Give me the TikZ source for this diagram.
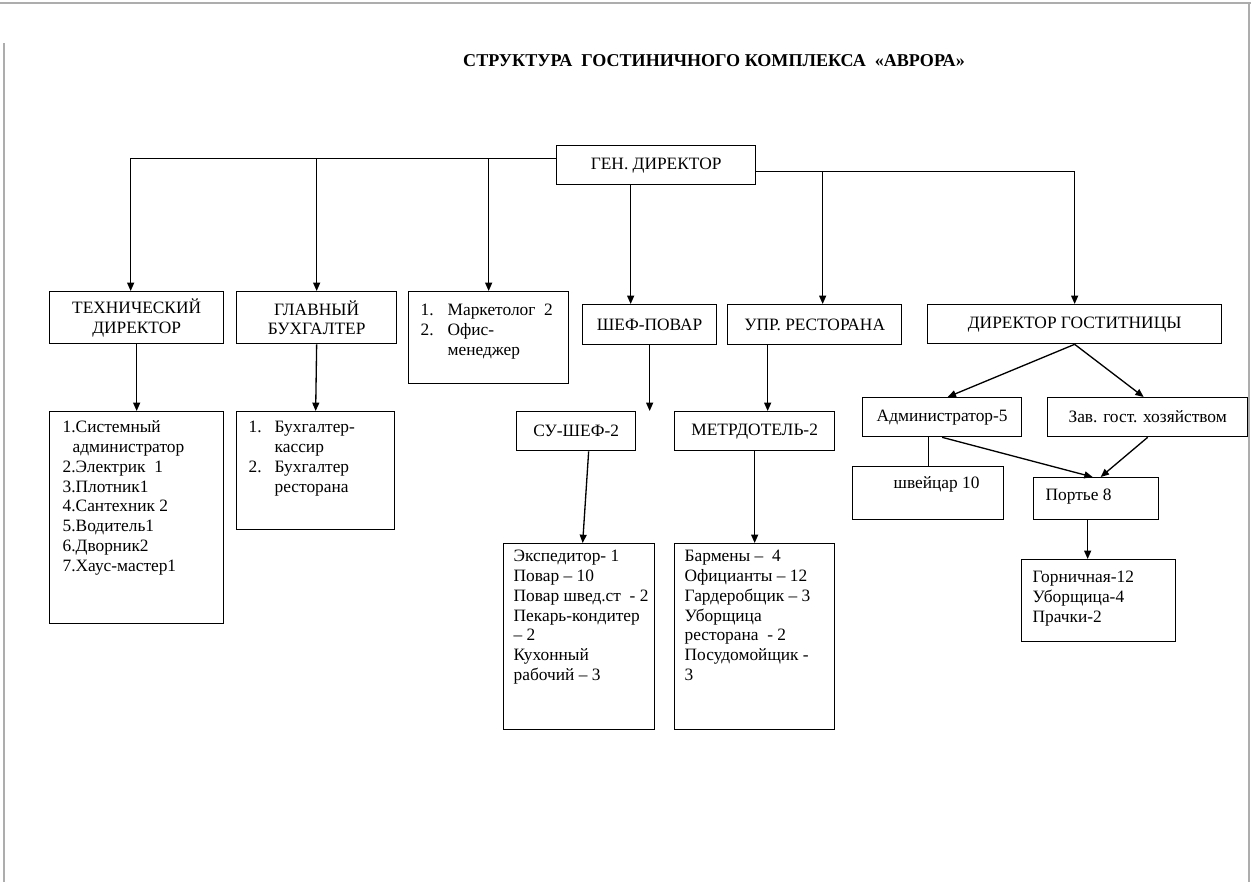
\documentclass[tikz,border=0pt]{standalone}
\usepackage{fontspec}
\setmainfont{Liberation Serif}
\usetikzlibrary{arrows.meta,positioning}
\newdimen\pxu \pxu=0.72pt
\newcommand{\listtext}[3]{\parbox[c][#1\pxu][t]{#2\pxu}{\begin{tabular}[t]{@{}l@{}}#3\end{tabular}}}

\begin{document}
\begin{tikzpicture}[x=0.72pt,y=-0.72pt,line width=0.95pt,
    >={Triangle[length=6pt,width=5pt]},
    sz/.style 2 args={minimum width=#1*\pxu,minimum height=#2*\pxu},
    pad/.style 2 args={inner xsep=#1*\pxu,inner ysep=#2*\pxu},
    box/.style={draw,anchor=north west,inner sep=0pt,align=center,
      font=\fontsize{12.5}{14.2}\selectfont},
    listbox/.style={draw,anchor=north west,font=\fontsize{12.5}{14.2}\selectfont},
    pageedge/.style={draw=black!32,line width=1.2pt}]

  \fill[white] (0,0) rectangle (1251,882);
  \useasboundingbox (0,0) rectangle (1251,882);
  \draw[pageedge,line width=2pt] (0,3) -- (1251,3);
  \draw[pageedge] (4,43) -- (4,882);
  \draw[pageedge] (1249,3) -- (1249,882);

  \node[font=\fontsize{13}{15}\selectfont\bfseries] (title) at (714,61)
    {СТРУКТУРА\ \ ГОСТИНИЧНОГО КОМПЛЕКСА\ \ «АВРОРА»};

  \node[box,sz={199}{39}] (gen)   at (556,145) {ГЕН. ДИРЕКТОР};
  \node[box,sz={174}{52}] (tech)  at (49,291)  {ТЕХНИЧЕСКИЙ\\ДИРЕКТОР};
  \node[box,sz={160}{52}] (glav)  at (236,291) {ГЛАВНЫЙ\\БУХГАЛТЕР};
  \node[listbox,pad={12}{10.5}] (mark) at (408,291)
    {\listtext{71}{136}{\makebox[27\pxu][l]{1.}Маркетолог\ \ 2\\
      \makebox[27\pxu][l]{2.}Офис-\\ \hspace*{27\pxu}менеджер}};
  \node[box,sz={134}{40}] (shef)  at (582,304) {ШЕФ-ПОВАР};
  \node[box,sz={174}{40}] (upr)   at (727,304) {УПР. РЕСТОРАНА};
  \node[box,sz={294}{39}] (dirg)  at (927,304) {ДИРЕКТОР ГОСТИТНИЦЫ};

  \node[listbox,pad={13}{7.5}] (techlist) at (49,411)
    {\listtext{197}{148}{1.Системный\\ \hspace*{10\pxu}администратор\\
      2.Электрик\ \ 1\\ 3.Плотник1\\ 4.Сантехник 2\\ 5.Водитель1\\
      6.Дворник2\\ 7.Хаус-мастер1}};
  \node[listbox,pad={12}{7.5}] (glavlist) at (236,411)
    {\listtext{103}{134}{\makebox[26\pxu][l]{1.}Бухгалтер-\\
      \hspace*{26\pxu}кассир\\ \makebox[26\pxu][l]{2.}Бухгалтер\\
      \hspace*{26\pxu}ресторана}};
  \node[box,sz={119}{39}] (sous)  at (516,411) {СУ-ШЕФ-2};
  \node[box,sz={160}{39}] (metr)  at (674,411) {МЕТРДОТЕЛЬ-2};
  \node[box,sz={159}{39}] (admin) at (862,397) {Администратор-5};
  \node[box,sz={200}{39}] (zav)   at (1047,397) {Зав. гост. хозяйством};
  \node[listbox,pad={41}{8.5}] (shv) at (852,466)
    {\listtext{36}{69}{швейцар 10}};
  \node[listbox,pad={12}{9.5}] (port) at (1033,477)
    {\listtext{23}{101}{Портье 8}};

  \node[listbox,pad={10}{4.5}] (exped) at (503,543)
    {\listtext{177}{131}{Экспедитор-\ 1\\ Повар – 10\\ Повар швед.ст\ \ - 2\\
      Пекарь-кондитер\\ – 2\\ Кухонный\\ рабочий – 3}};
  \node[listbox,pad={10}{4.5}] (barmen) at (674,543)
    {\listtext{177}{140}{Бармены –\ \ 4\\ Официанты – 12\\ Гардеробщик – 3\\
      Уборщица\\ ресторана\ \ - 2\\ Посудомойщик -\\ 3}};
  \node[listbox,pad={11}{9.5}] (gorn) at (1021,559)
    {\listtext{63}{132}{Горничная-12\\ Уборщица-4\\ Прачки-2}};

  \coordinate (lbus) at ([shift={(0,-7)}]gen.west);
  \coordinate (rbus) at ([shift={(0,6.5)}]gen.east);
  \coordinate (g1) at ([shift={(-25.5,0)}]gen.south);
  \coordinate (u1) at ([shift={(8,0)}]upr.north);
  \coordinate (u2) at ([shift={(-47,0)}]upr.south);
  \coordinate (p1) at ([shift={(-8.5,0)}]port.south);

  \draw[->] (lbus) -| ([shift={(-6,0)}]tech.north);
  \draw[->] (glav.north |- lbus) -- (glav.north);
  \draw[->] (mark.north |- lbus) -- (mark.north);
  \draw[->] (g1) -- (g1 |- shef.north);
  \draw[->] (rbus) -| (dirg.north);
  \draw[->] (u1 |- rbus) -- (u1);

  \draw[->] (tech.south) -- (techlist.north);
  \draw[->] (glav.south) -- (glavlist.north);
  \draw[->] (shef.south) -- (shef.south |- sous.north);
  \draw[->] (u2) -- (u2 |- metr.north);
  \draw[->] ([shift={(12.5,0)}]sous.south) -- ([shift={(3.5,0)}]exped.north);
  \draw[->] (metr.south) -- (barmen.north);

  \draw[->] (dirg.south) -- ([shift={(5.5,0)}]admin.north);
  \draw[->] (dirg.south) -- ([shift={(-4,0)}]zav.north);
  \draw (shv.north |- admin.south) -- (shv.north);
  \draw[->] (admin.south) -- ([shift={(-3.5,0)}]port.north);
  \draw[->] (zav.south) -- ([shift={(4.5,0)}]port.north);
  \draw[->] (p1) -- (p1 |- gorn.north);
\end{tikzpicture}
\end{document}
